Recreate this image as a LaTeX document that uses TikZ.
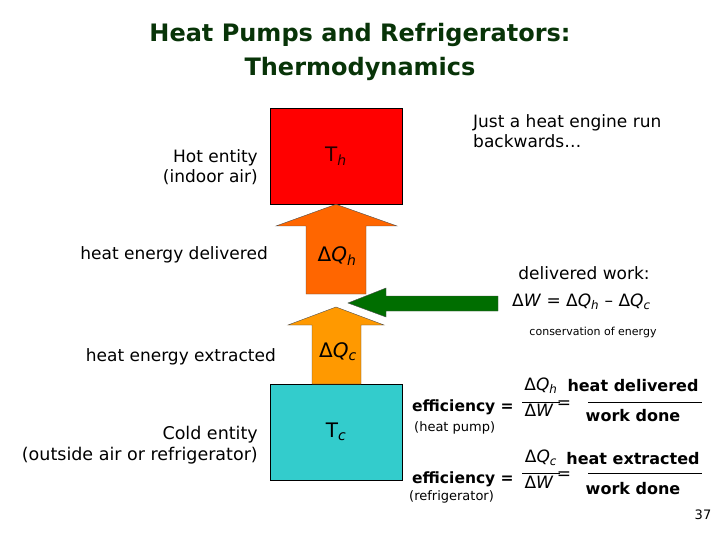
\documentclass[tikz,border=0pt]{standalone}
\usepackage{fontspec}
\setmainfont{DejaVu Sans}
\definecolor{titlegreen}{RGB}{8,52,8}
\definecolor{hotred}{RGB}{255,0,0}
\definecolor{orangeA}{RGB}{255,102,0}
\definecolor{orangeB}{RGB}{255,153,0}
\definecolor{coldcyan}{RGB}{51,204,204}
\definecolor{workgreen}{RGB}{0,110,0}
\begin{document}
\begin{tikzpicture}[x=1pt,y=-1pt,
  box/.style={draw=black,line width=0.6pt,minimum width=132pt,minimum height=96pt,inner sep=0pt},
  blockarrow/.style={draw=black!70,line width=0.4pt},
  lbl/.style={inner sep=0pt,font=\fontsize{17}{20}\selectfont},
  sym/.style={inner sep=0pt,font=\fontsize{20}{22}\selectfont},
  frac/.style={inner sep=0pt,font=\fontsize{17}{19}\selectfont},
  effb/.style={inner sep=0pt,font=\fontsize{15.5}{18}\selectfont\bfseries},
  small/.style={inner sep=0pt,font=\fontsize{13}{15}\selectfont},
  fracline/.style={line width=0.8pt}]
\useasboundingbox (0,0) rectangle (720,540);
% title
\node[inner sep=0pt,font=\fontsize{24}{34}\selectfont\bfseries,text=titlegreen,align=center] (title) at (360,52)
  {Heat Pumps and Refrigerators:\\Thermodynamics};
% boxes
\node[box,fill=hotred] (hot) at (336,156) {};
\node[box,fill=coldcyan] (cold) at (336,432) {};
% block arrows
\path[blockarrow,fill=orangeA] (hot.south) -- (397,226) -- (366,226) -- (366,294) -- (306,294) -- (306,226) -- (276,226) -- cycle;
\coordinate (tipc) at (336,307);
\path[blockarrow,fill=orangeB] (tipc) -- (384,325) -- (361,325) -- (361,384) -- (312,384) -- (312,325) -- (288,325) -- cycle;
\coordinate (tipw) at (348,303);
\path[blockarrow,fill=workgreen] (tipw) -- (386,288) -- (386,296) -- (498,296) -- (498,311) -- (386,311) -- (386,317) -- cycle;
% labels in shapes
\node[sym,text=black!85!red] (th) at (hot.center) {T\textsubscript{\textit{h}}};
\node[sym] (tc) at (cold.center) {T\textsubscript{\textit{c}}};
\node[sym] (dqh) at (337,256) {Δ\textit{Q}\textsubscript{\textit{h}}};
\node[sym] (dqc) at (338,352) {Δ\textit{Q}\textsubscript{\textit{c}}};
% left labels
\node[lbl,align=right,anchor=east] (hotent) at (258,167) {Hot entity\\(indoor air)};
\node[lbl,anchor=east] (hdel) at (268,255) {heat energy delivered};
\node[lbl,anchor=east] (hext) at (276,357) {heat energy extracted};
\node[lbl,font=\fontsize{17.5}{21}\selectfont,align=right,anchor=east] (coldent) at (258,445) {Cold entity\\(outside air or refrigerator)};
% right labels
\node[lbl,align=left,anchor=west] (just) at (473,131) {Just a heat engine run\\backwards…};
\node[lbl] (delw) at (584,273) {delivered work:};
\node[sym,font=\fontsize{17}{19}\selectfont,anchor=west] (eq) at (512,302) {Δ\textit{W} = Δ\textit{Q}\textsubscript{\textit{h}} – Δ\textit{Q}\textsubscript{\textit{c}}};
\node[small,font=\fontsize{11}{13}\selectfont] (cons) at (593,332) {conservation of energy};
% efficiency heat pump
\node[effb,anchor=west] (eff1) at (412,407) {efficiency =};
\node[small,anchor=west] (hp) at (414,428) {(heat pump)};
\node[frac] (n1) at (541,386) {Δ\textit{Q}\textsubscript{\textit{h}}};
\node[frac] (d1) at (539,410) {Δ\textit{W}};
\draw[fracline] (522,402) -- (560,402);
\node[frac] (e1) at (564,405) {=};
\node[inner sep=0pt,font=\fontsize{16}{19}\selectfont\bfseries] (hd) at (633,386) {heat delivered};
\node[inner sep=0pt,font=\fontsize{16}{19}\selectfont\bfseries] (wd1) at (633,416) {work done};
\draw[fracline] (588,402) -- (702,402);
% efficiency refrigerator
\node[effb,anchor=west] (eff2) at (412,479) {efficiency =};
\node[small,anchor=west] (rf) at (409,497) {(refrigerator)};
\node[frac] (n2) at (541,458) {Δ\textit{Q}\textsubscript{\textit{c}}};
\node[frac] (d2) at (539,482) {Δ\textit{W}};
\draw[fracline] (522,473) -- (560,473);
\node[frac] (e2) at (564,476) {=};
\node[inner sep=0pt,font=\fontsize{16}{19}\selectfont\bfseries] (he) at (633,459) {heat extracted};
\node[inner sep=0pt,font=\fontsize{16}{19}\selectfont\bfseries] (wd2) at (633,489) {work done};
\draw[fracline] (588,473) -- (702,473);
\node[small] (pg) at (703,515) {37};
\end{tikzpicture}
\end{document}
